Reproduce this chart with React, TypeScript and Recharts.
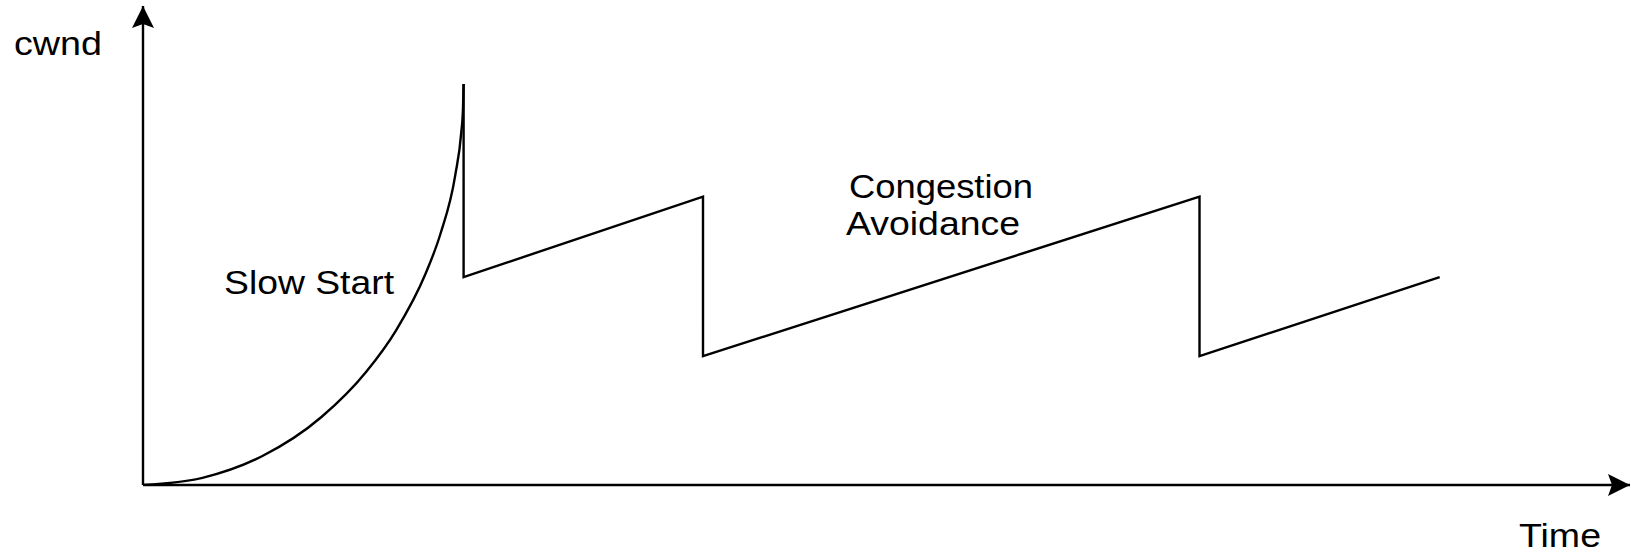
import { LineChart, Line, XAxis, YAxis } from "recharts";

// slow start phase
const slowStartTime = [0, 4, 8, 12, 15, 17, 19, 20, 21, 21.4, 21.52, 21.56];
const slowStartCwnd = [0, 1.5, 6, 14.2, 23.6, 32.2, 44.1, 52.4, 64.7, 73.5, 78.6, 83.7];

// congestion avoidance sawtooth
const avoidTime = [21.56, 21.56, 37.66, 37.66, 71.05, 71.05, 87.2];
const avoidCwnd = [83.7, 43.4, 60.2, 26.9, 60.2, 26.9, 43.4];

const slowStart = slowStartTime.map((t, i) => ({ t, cwnd: slowStartCwnd[i] }));
const avoidance = avoidTime.map((t, i) => ({ t, cwnd: avoidCwnd[i] }));

const FONT = '"Liberation Sans", Arial, sans-serif';

function Caption({ x, y, len, children }: { x: number; y: number; len: number; children: string }) {
  return (
    <text
      x={x}
      y={y}
      fontFamily={FONT}
      fontSize={33}
      fill="#000"
      textLength={len}
      lengthAdjust="spacingAndGlyphs"
    >
      {children}
    </text>
  );
}

export default function App() {
  return (
    <div style={{ position: "absolute", left: 0, top: 0, background: "#fff" }}>
      <LineChart
        width={1631}
        height={553}
        margin={{ top: 6, right: 1, bottom: 67, left: 142 }}
      >
        <defs>
          <marker
            id="arrow"
            viewBox="-23 -12 24 24"
            refX={0}
            refY={0}
            markerWidth={24}
            markerHeight={24}
            markerUnits="userSpaceOnUse"
            orient="auto-start-reverse"
          >
            <path d="M 0 0 L -22 -11 L -18 0 L -22 11 Z" fill="#000" />
          </marker>
        </defs>
        <XAxis
          type="number"
          dataKey="t"
          domain={[0, 100]}
          height={1}
          tick={false}
          tickLine={false}
          axisLine={{ stroke: "#000", strokeWidth: 2.4, markerEnd: "url(#arrow)" }}
          allowDataOverflow
        />
        <YAxis
          type="number"
          dataKey="cwnd"
          domain={[0, 100]}
          width={1}
          tick={false}
          tickLine={false}
          axisLine={{ stroke: "#000", strokeWidth: 2.4, markerStart: "url(#arrow)" }}
          allowDataOverflow
        />
        <Line
          data={slowStart}
          dataKey="cwnd"
          type="monotoneX"
          stroke="#000"
          strokeWidth={2.4}
          dot={false}
          isAnimationActive={false}
        />
        <Line
          data={avoidance}
          dataKey="cwnd"
          type="linear"
          stroke="#000"
          strokeWidth={2.4}
          dot={false}
          isAnimationActive={false}
        />
        <g>
          <Caption x={14} y={55} len={88}>cwnd</Caption>
          <Caption x={224} y={294} len={170}>Slow Start</Caption>
          <Caption x={849} y={198} len={184}>Congestion</Caption>
          <Caption x={846} y={235} len={174}>Avoidance</Caption>
          <Caption x={1519} y={547} len={82}>Time</Caption>
        </g>
      </LineChart>
    </div>
  );
}
